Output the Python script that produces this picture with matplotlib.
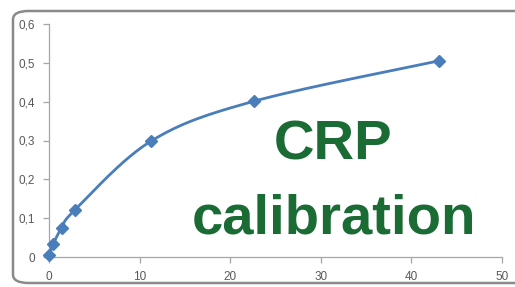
import numpy as np
import matplotlib
matplotlib.use("Agg")
import matplotlib.pyplot as plt
from matplotlib.patches import FancyBboxPatch

conc = [0, 0.45, 1.4, 2.9, 11.3, 22.6, 43.0]
absorb = [0.005, 0.033, 0.075, 0.122, 0.299, 0.401, 0.505]
xticks = [0, 10, 20, 30, 40, 50]
yticks = [0, 0.1, 0.2, 0.3, 0.4, 0.5, 0.6]
ytick_labels = ["0", "0,1", "0,2", "0,3", "0,4", "0,5", "0,6"]
title_lines = ["CRP", "calibration"]

W, H = 515, 287
fig = plt.figure(figsize=(W / 100, H / 100), dpi=100)
plt.rcParams['font.family'] = ['Liberation Sans', 'DejaVu Sans']

# rounded frame
frame = FancyBboxPatch((13 / W, 1 - 283 / H), (W + 20) / W, (283 - 11) / H,
                       boxstyle="round,pad=0,rounding_size=0.03",
                       transform=fig.transFigure, fill=False,
                       edgecolor="#8a8a8a", linewidth=1.8, clip_on=False)
fig.patches.append(frame)

ax = fig.add_axes([49 / W, 1 - 257 / H, (502 - 49) / W, (257 - 24) / H])
ax.set_xlim(0, 50)
ax.set_ylim(0, 0.6)
for s in ["top", "right"]:
    ax.spines[s].set_visible(False)
for s in ["left", "bottom"]:
    ax.spines[s].set_color("#a6a6a6")
    ax.spines[s].set_linewidth(0.9)
ax.set_xticks(xticks)
ax.set_yticks(yticks)
ax.set_yticklabels(ytick_labels)
ax.tick_params(colors="#a6a6a6", labelcolor="#595959", labelsize=8.5, length=4, width=0.9)
ax.tick_params(axis="y", pad=6)
ax.tick_params(axis="x", pad=6)

# Excel-like smoothed line (Catmull-Rom through points)
x = np.array(conc)
y = np.array(absorb)
sx, sy = 1 / 50, 1 / 0.6
P = np.column_stack([x * sx, y * sy])
pts = []
n = len(P)
t = np.linspace(0, 1, 30)
for i in range(n - 1):
    p0 = P[i - 1] if i > 0 else P[i]
    p1 = P[i]
    p2 = P[i + 1]
    p3 = P[i + 2] if i + 2 < n else P[i + 1]
    c1 = p1 + (p2 - p0) / 6
    c2 = p2 - (p3 - p1) / 6
    for tt in t:
        b = ((1 - tt) ** 3) * p1 + 3 * ((1 - tt) ** 2) * tt * c1 + 3 * (1 - tt) * tt ** 2 * c2 + tt ** 3 * p2
        pts.append(b)
pts = np.array(pts)
ax.plot(pts[:, 0] / sx, pts[:, 1] / sy, color="#4a7ebb", lw=2, clip_on=False, zorder=3)
ax.plot(x, y, linestyle="none", marker="D", markersize=6, color="#4a7ebb", clip_on=False, zorder=4)

fig.text(333 / W, 1 - 160 / H, title_lines[0], color="#1b6b35", fontsize=40.5,
         fontweight="bold", ha="center", va="baseline")
fig.text(334 / W, 1 - 233 / H, title_lines[1], color="#1b6b35", fontsize=40.5,
         fontweight="bold", ha="center", va="baseline")

fig.savefig("out.png", dpi=100)
